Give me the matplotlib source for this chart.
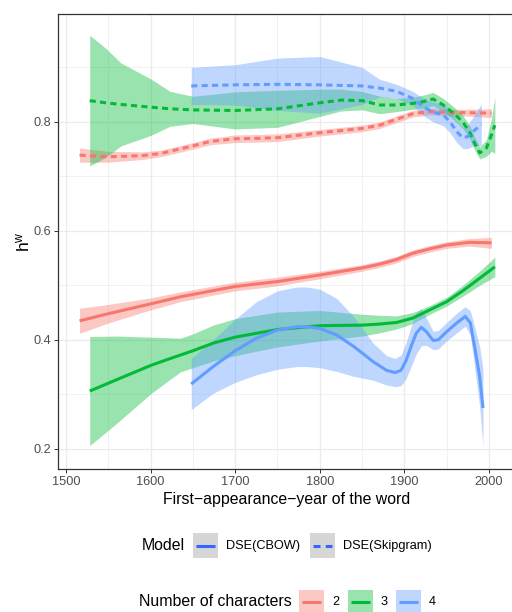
import matplotlib
matplotlib.use("Agg")
from matplotlib import pyplot as plt
from matplotlib.patches import Rectangle
from matplotlib.lines import Line2D
import numpy as np

plt.rcParams['font.family'] = ['Liberation Sans', 'DejaVu Sans']

# colours used by ggplot for the three groups
col2, col3, col4 = '#F8766D', '#00BA38', '#619CFF'

# DSE(Skipgram), dashed curves: year, smoothed h^w, half width of the band
yr_sg2 = [1516, 1550, 1590, 1612, 1631, 1650, 1670, 1700, 1729, 1750, 1800, 1850, 1871, 1891, 1910, 1930, 1950, 1970, 2003]
hw_sg2 = [0.739, 0.736, 0.738, 0.742, 0.749, 0.756, 0.764, 0.769, 0.770, 0.771, 0.780, 0.788, 0.794, 0.805, 0.815, 0.819, 0.817, 0.817, 0.816]
se_sg2 = [0.013, 0.010, 0.007, 0.006, 0.006, 0.006, 0.006, 0.007, 0.007, 0.007, 0.006, 0.006, 0.006, 0.006, 0.006, 0.006, 0.006, 0.006, 0.008]

yr_sg3 = [1528, 1547, 1565, 1600, 1623, 1650, 1700, 1750, 1800, 1825, 1850, 1871, 1891, 1910, 1922, 1934, 1946, 1958, 1969, 1977, 1983, 1989, 1997, 2003, 2007]
hw_sg3 = [0.839, 0.835, 0.832, 0.827, 0.824, 0.822, 0.821, 0.824, 0.835, 0.840, 0.839, 0.831, 0.831, 0.834, 0.837, 0.842, 0.831, 0.816, 0.800, 0.782, 0.761, 0.743, 0.752, 0.776, 0.794]
se_sg3 = [0.120, 0.100, 0.076, 0.052, 0.032, 0.025, 0.034, 0.034, 0.025, 0.020, 0.017, 0.016, 0.012, 0.011, 0.012, 0.012, 0.012, 0.012, 0.012, 0.012, 0.012, 0.011, 0.015, 0.030, 0.052]

yr_sg4 = [1648, 1700, 1750, 1800, 1850, 1871, 1891, 1910, 1922, 1934, 1946, 1954, 1962, 1969, 1975, 1981, 1991]
hw_sg4 = [0.866, 0.868, 0.869, 0.868, 0.866, 0.862, 0.856, 0.843, 0.828, 0.818, 0.813, 0.800, 0.782, 0.771, 0.773, 0.782, 0.795]
se_sg4 = [0.034, 0.037, 0.048, 0.052, 0.034, 0.016, 0.013, 0.013, 0.016, 0.018, 0.020, 0.020, 0.020, 0.020, 0.022, 0.026, 0.038]

# DSE(CBOW), solid curves
yr_cb2 = [1516, 1550, 1600, 1635, 1700, 1750, 1800, 1850, 1871, 1890, 1910, 1930, 1950, 1977, 2003]
hw_cb2 = [0.435, 0.448, 0.466, 0.479, 0.498, 0.507, 0.519, 0.532, 0.539, 0.547, 0.559, 0.567, 0.574, 0.579, 0.578]
se_cb2 = [0.023, 0.017, 0.011, 0.009, 0.008, 0.008, 0.007, 0.006, 0.006, 0.006, 0.006, 0.006, 0.006, 0.007, 0.010]

yr_cb3 = [1528, 1560, 1600, 1620, 1635, 1650, 1674, 1700, 1750, 1800, 1850, 1871, 1891, 1910, 1930, 1950, 1970, 1989, 2007]
hw_cb3 = [0.306, 0.327, 0.353, 0.364, 0.372, 0.380, 0.394, 0.405, 0.419, 0.426, 0.427, 0.429, 0.432, 0.440, 0.455, 0.470, 0.491, 0.513, 0.534]
se_cb3 = [0.100, 0.080, 0.052, 0.040, 0.031, 0.031, 0.033, 0.034, 0.032, 0.028, 0.020, 0.016, 0.012, 0.010, 0.008, 0.008, 0.010, 0.013, 0.018]

yr_cb4 = [1648, 1674, 1700, 1725, 1750, 1773, 1785, 1800, 1820, 1840, 1850, 1863, 1879, 1889, 1896, 1902, 1908, 1914, 1920, 1926, 1934, 1940, 1950, 1962, 1972, 1978, 1983, 1989, 1993]
hw_cb4 = [0.319, 0.351, 0.380, 0.403, 0.418, 0.424, 0.424, 0.421, 0.409, 0.388, 0.376, 0.360, 0.344, 0.340, 0.344, 0.362, 0.388, 0.412, 0.423, 0.415, 0.399, 0.400, 0.415, 0.431, 0.443, 0.431, 0.388, 0.333, 0.275]
se_cb4 = [0.047, 0.049, 0.058, 0.067, 0.072, 0.073, 0.073, 0.072, 0.067, 0.055, 0.046, 0.034, 0.027, 0.026, 0.028, 0.033, 0.037, 0.038, 0.034, 0.025, 0.017, 0.017, 0.017, 0.018, 0.018, 0.022, 0.037, 0.055, 0.070]

curves = [
    ('-', col2, yr_cb2, hw_cb2, se_cb2),
    ('-', col3, yr_cb3, hw_cb3, se_cb3),
    ('-', col4, yr_cb4, hw_cb4, se_cb4),
    ('--', col2, yr_sg2, hw_sg2, se_sg2),
    ('--', col3, yr_sg3, hw_sg3, se_sg3),
    ('--', col4, yr_sg4, hw_sg4, se_sg4),
]

model_labels = ['DSE(CBOW)', 'DSE(Skipgram)']
nchar_labels = ['2', '3', '4']

W, H = 512, 612
fig = plt.figure(figsize=(W/100, H/100), dpi=100)
ax = fig.add_axes([58/W, 1-469/H, (516-58)/W, (469-14)/H])

for ls, c, x, y, se in curves:
    x = np.array(x); y = np.array(y); se = np.array(se)
    ax.fill_between(x, y-se, y+se, color=c, alpha=0.4, lw=0)
    kw = dict(dashes=(2.0, 1.4)) if ls == '--' else {}
    ax.plot(x, y, ls, color=c, lw=2.2, solid_joinstyle='round',
            dash_joinstyle='round', solid_capstyle='butt', **kw)

ax.set_xlim(1490.5, 2032)
ax.set_ylim(0.163, 0.998)
ax.set_xticks([1500, 1600, 1700, 1800, 1900, 2000])
ax.set_yticks([0.2, 0.4, 0.6, 0.8])
ax.set_yticklabels(['0.2', '0.4', '0.6', '0.8'])
ax.set_xticks(np.arange(1550, 2001, 100), minor=True)
ax.set_yticks([0.3, 0.5, 0.7, 0.9], minor=True)
ax.grid(True, which='major', color='#EBEBEB', lw=0.9, zorder=0)
ax.grid(True, which='minor', color='#EBEBEB', lw=0.5, zorder=0)
ax.set_axisbelow(True)
ax.tick_params(which='major', length=3, width=0.7, color='#333333',
               labelcolor='#4D4D4D', labelsize=9.2, pad=2)
ax.tick_params(which='minor', length=0)
for s in ax.spines.values():
    s.set_color('#333333')
    s.set_linewidth(0.9)

ax.set_xlabel('First\u2212appearance\u2212year of the word', fontsize=11.4, labelpad=3)
ax.set_ylabel('$\\mathregular{h^w}$', fontsize=12.5, labelpad=1)

# legends drawn below the panel
def px(x, y):
    return x/W, 1-y/H

ym = 545.5
fig.text(*px(142, ym), 'Model', fontsize=11.4, va='center', ha='left')
for i, (x0, lab) in enumerate(zip([193, 310], model_labels)):
    fig.add_artist(Rectangle(px(x0, ym+12.5), 25/W, 25/H, color='#D6D6D6', lw=0))
    kw = dict(dashes=(2.3, 1.7)) if i == 1 else {}
    fig.add_artist(Line2D([(x0+3)/W, (x0+22)/W], [1-ym/H]*2, color='#3366FF',
                          lw=2.2, solid_capstyle='butt', dash_capstyle='butt', **kw))
    fig.text(*px(x0+33, ym), lab, fontsize=9.2, va='center', ha='left')

yn = 602
fig.text(*px(139, yn), 'Number of characters', fontsize=11.4, va='center', ha='left')
for x0, c, lab in zip([299, 348, 396], [col2, col3, col4], nchar_labels):
    fig.add_artist(Rectangle(px(x0, yn+12.5), 25/W, 25/H, color=c, alpha=0.4, lw=0))
    fig.add_artist(Line2D([(x0+3)/W, (x0+22)/W], [1-yn/H]*2, color=c, lw=2.2,
                          solid_capstyle='butt'))
    fig.text(*px(x0+33, yn), lab, fontsize=9.2, va='center', ha='left')

fig.savefig('out.png', dpi=100)
